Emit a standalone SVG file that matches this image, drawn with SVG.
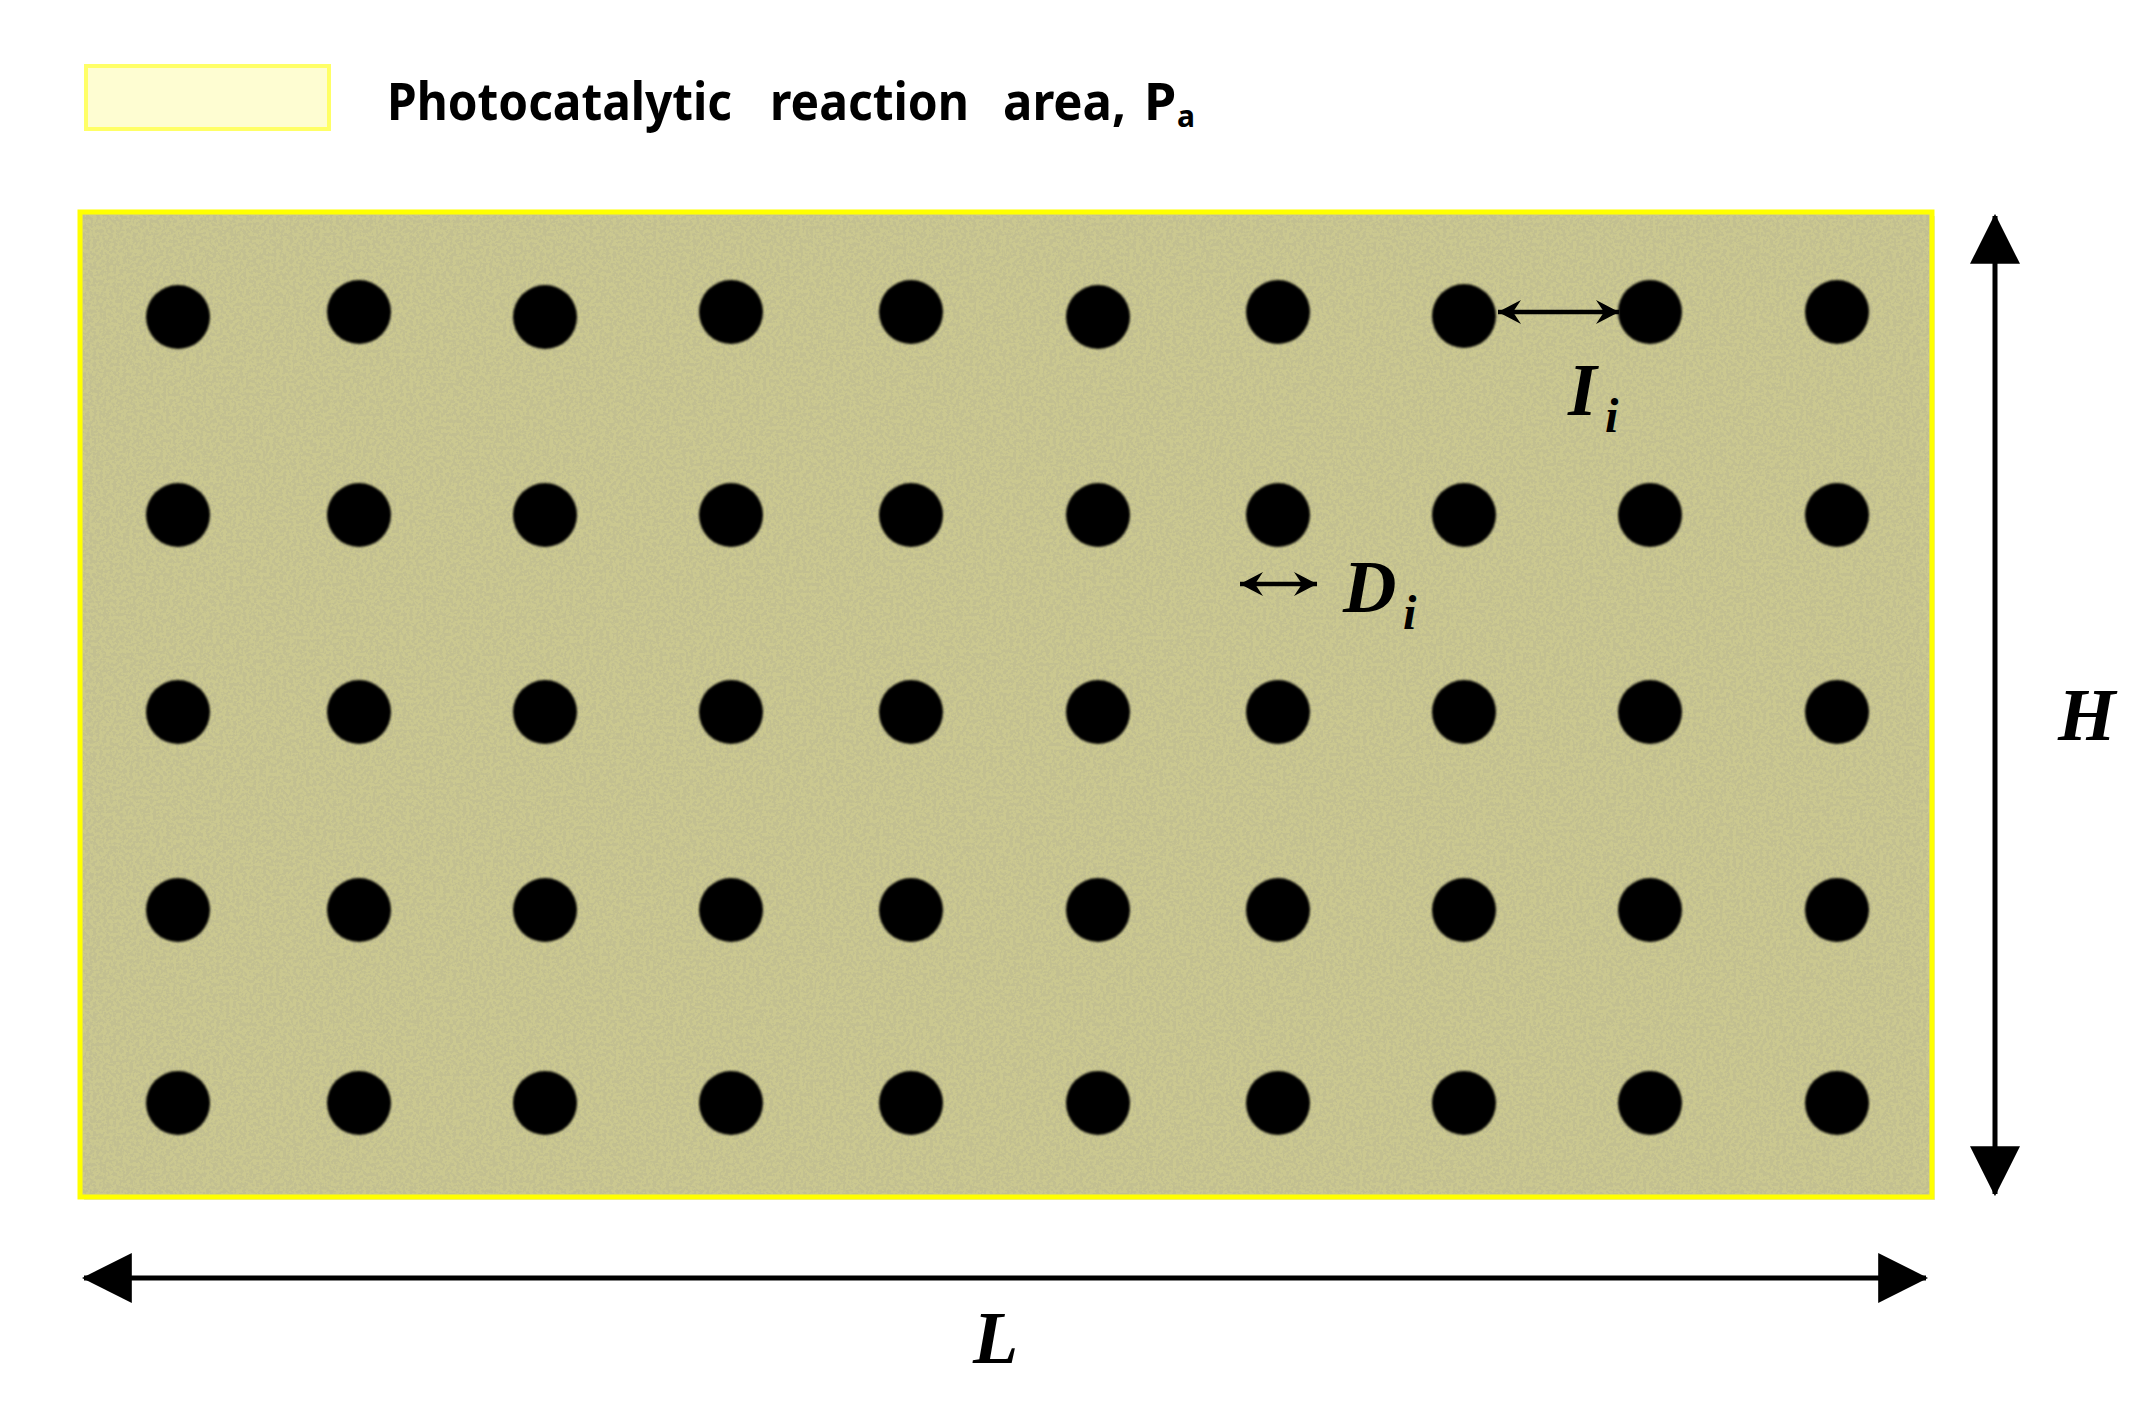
<svg xmlns="http://www.w3.org/2000/svg" width="2146" height="1404" viewBox="0 0 2146 1404">
<style>
.leg{font-family:"Noto Sans","Liberation Sans",sans-serif;font-weight:bold;font-size:52px;fill:#000}
.var{font-family:"Liberation Serif","Times New Roman",serif;font-weight:bold;font-style:italic;fill:#000}
.dot{fill:#000}
.dim{stroke:#000;stroke-width:5;fill:none}
.thin{stroke:#000;stroke-width:4.5;fill:none}
</style>
<defs>
<marker id="tri" markerUnits="userSpaceOnUse" markerWidth="50" markerHeight="50" viewBox="0 0 46 46" refX="44" refY="23" orient="auto-start-reverse">
<path d="M0,0 L46,23 L0,46 Z" fill="#000"/>
</marker>
<marker id="vee" markerUnits="userSpaceOnUse" markerWidth="30" markerHeight="30" viewBox="0 0 30 30" refX="27" refY="15" orient="auto-start-reverse">
<path d="M4,3 L27,15 L4,27 L12,15 Z" fill="#000"/>
</marker>
<filter id="speck" x="0" y="0" width="100%" height="100%">
<feTurbulence type="fractalNoise" baseFrequency="0.3" numOctaves="2" seed="4" result="n"/>
<feColorMatrix in="n" type="matrix" values="0 0 0 0 0.45  0 0 0 0 0.44  0 0 0 0 0.28  0 0 0 -9 5.0" result="s"/>
<feComposite in="s" in2="SourceGraphic" operator="in"/>
</filter>
<filter id="soft" x="-20%" y="-20%" width="140%" height="140%">
<feGaussianBlur stdDeviation="1"/>
</filter>
</defs>

<g id="legend">
<rect x="86" y="66" width="243" height="63" fill="#fefdd2" stroke="#ffff66" stroke-width="4"/>
<text class="leg" x="387" y="120" textLength="345" lengthAdjust="spacingAndGlyphs">Photocatalytic</text>
<text class="leg" x="770" y="120" textLength="199" lengthAdjust="spacingAndGlyphs">reaction</text>
<text class="leg" x="1003" y="120" textLength="123" lengthAdjust="spacingAndGlyphs">area,</text>
<text class="leg" x="1144" y="120">P</text>
<text class="leg" x="1177" y="127" style="font-size:30px">a</text>
</g>

<g id="area">
<rect x="81" y="213" width="1851" height="984" fill="#000" opacity="0.12" transform="translate(3,3)"/>
<rect x="80" y="212" width="1852" height="985" fill="#cbc890" stroke="#ffff00" stroke-width="5"/>
<rect x="83" y="215" width="1846" height="979" fill="#cbc890" filter="url(#speck)" opacity="0.35"/>
</g>

<g id="holes" filter="url(#soft)">
<circle class="dot" cx="178" cy="317" r="32"/><circle class="dot" cx="359" cy="312" r="32"/><circle class="dot" cx="545" cy="317" r="32"/><circle class="dot" cx="731" cy="312" r="32"/><circle class="dot" cx="911" cy="312" r="32"/><circle class="dot" cx="1098" cy="317" r="32"/><circle class="dot" cx="1278" cy="312" r="32"/><circle class="dot" cx="1464" cy="316" r="32"/><circle class="dot" cx="1650" cy="312" r="32"/><circle class="dot" cx="1837" cy="312" r="32"/>
<circle class="dot" cx="178" cy="515" r="32"/><circle class="dot" cx="359" cy="515" r="32"/><circle class="dot" cx="545" cy="515" r="32"/><circle class="dot" cx="731" cy="515" r="32"/><circle class="dot" cx="911" cy="515" r="32"/><circle class="dot" cx="1098" cy="515" r="32"/><circle class="dot" cx="1278" cy="515" r="32"/><circle class="dot" cx="1464" cy="515" r="32"/><circle class="dot" cx="1650" cy="515" r="32"/><circle class="dot" cx="1837" cy="515" r="32"/>
<circle class="dot" cx="178" cy="712" r="32"/><circle class="dot" cx="359" cy="712" r="32"/><circle class="dot" cx="545" cy="712" r="32"/><circle class="dot" cx="731" cy="712" r="32"/><circle class="dot" cx="911" cy="712" r="32"/><circle class="dot" cx="1098" cy="712" r="32"/><circle class="dot" cx="1278" cy="712" r="32"/><circle class="dot" cx="1464" cy="712" r="32"/><circle class="dot" cx="1650" cy="712" r="32"/><circle class="dot" cx="1837" cy="712" r="32"/>
<circle class="dot" cx="178" cy="910" r="32"/><circle class="dot" cx="359" cy="910" r="32"/><circle class="dot" cx="545" cy="910" r="32"/><circle class="dot" cx="731" cy="910" r="32"/><circle class="dot" cx="911" cy="910" r="32"/><circle class="dot" cx="1098" cy="910" r="32"/><circle class="dot" cx="1278" cy="910" r="32"/><circle class="dot" cx="1464" cy="910" r="32"/><circle class="dot" cx="1650" cy="910" r="32"/><circle class="dot" cx="1837" cy="910" r="32"/>
<circle class="dot" cx="178" cy="1103" r="32"/><circle class="dot" cx="359" cy="1103" r="32"/><circle class="dot" cx="545" cy="1103" r="32"/><circle class="dot" cx="731" cy="1103" r="32"/><circle class="dot" cx="911" cy="1103" r="32"/><circle class="dot" cx="1098" cy="1103" r="32"/><circle class="dot" cx="1278" cy="1103" r="32"/><circle class="dot" cx="1464" cy="1103" r="32"/><circle class="dot" cx="1650" cy="1103" r="32"/><circle class="dot" cx="1837" cy="1103" r="32"/>
</g>

<g id="connectors">
<line class="dim" x1="1995" y1="216" x2="1995" y2="1194" marker-start="url(#tri)" marker-end="url(#tri)"/>
<line class="dim" x1="84" y1="1278" x2="1926" y2="1278" marker-start="url(#tri)" marker-end="url(#tri)"/>
<line class="thin" x1="1498" y1="312" x2="1619" y2="312" marker-start="url(#vee)" marker-end="url(#vee)"/>
<line class="thin" x1="1240" y1="584" x2="1317" y2="584" marker-start="url(#vee)" marker-end="url(#vee)"/>
</g>

<g id="labels">
<text class="var" x="1568" y="415" style="font-size:74px">I</text>
<text class="var" x="1605" y="432" style="font-size:48px">i</text>
<text class="var" x="1343" y="612" style="font-size:74px">D</text>
<text class="var" x="1403" y="629" style="font-size:48px">i</text>
<text class="var" x="2058" y="740" style="font-size:74px">H</text>
<text class="var" x="973" y="1363" style="font-size:74px">L</text>
</g>
</svg>
